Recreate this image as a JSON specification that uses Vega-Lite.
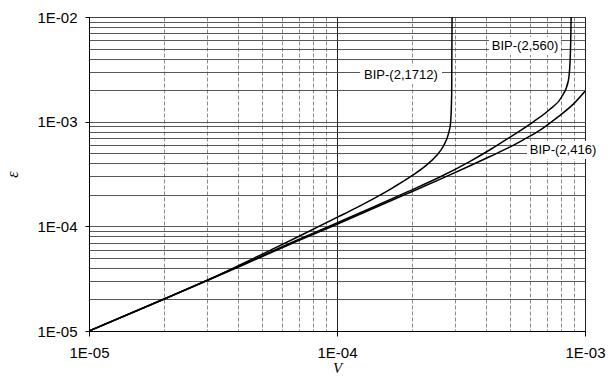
{
  "$schema": "https://vega.github.io/schema/vega-lite/v6.json",
  "width": 496,
  "height": 314,
  "autosize": {"type": "none"},
  "padding": {"left": 89, "top": 17, "right": 29, "bottom": 45},
  "background": "white",
  "config": {"view": {"stroke": "#000", "strokeWidth": 1}, "font": "Liberation Sans"},
  "datasets": {
    "curves": [
      {"series": "BIP-(2,1712)", "v": 1e-5, "e": 1e-5},
      {"series": "BIP-(2,1712)", "v": 2e-5, "e": 2.01e-5},
      {"series": "BIP-(2,1712)", "v": 3e-5, "e": 3.06e-5},
      {"series": "BIP-(2,1712)", "v": 4e-5, "e": 4.21e-5},
      {"series": "BIP-(2,1712)", "v": 5e-5, "e": 5.42e-5},
      {"series": "BIP-(2,1712)", "v": 7e-5, "e": 8.0e-5},
      {"series": "BIP-(2,1712)", "v": 1e-4, "e": 1.216e-4},
      {"series": "BIP-(2,1712)", "v": 1.2e-4, "e": 1.51e-4},
      {"series": "BIP-(2,1712)", "v": 1.4e-4, "e": 1.83e-4},
      {"series": "BIP-(2,1712)", "v": 1.69e-4, "e": 2.36e-4},
      {"series": "BIP-(2,1712)", "v": 2.0e-4, "e": 3.03e-4},
      {"series": "BIP-(2,1712)", "v": 2.3e-4, "e": 3.86e-4},
      {"series": "BIP-(2,1712)", "v": 2.52e-4, "e": 4.75e-4},
      {"series": "BIP-(2,1712)", "v": 2.69e-4, "e": 5.89e-4},
      {"series": "BIP-(2,1712)", "v": 2.81e-4, "e": 7.56e-4},
      {"series": "BIP-(2,1712)", "v": 2.87e-4, "e": 9.72e-4},
      {"series": "BIP-(2,1712)", "v": 2.9e-4, "e": 1.83e-3},
      {"series": "BIP-(2,1712)", "v": 2.91e-4, "e": 1e-2},
      {"series": "BIP-(2,560)", "v": 1e-5, "e": 1e-5},
      {"series": "BIP-(2,560)", "v": 2e-5, "e": 2.01e-5},
      {"series": "BIP-(2,560)", "v": 3e-5, "e": 3.05e-5},
      {"series": "BIP-(2,560)", "v": 4.2e-5, "e": 4.35e-5},
      {"series": "BIP-(2,560)", "v": 7e-5, "e": 7.5e-5},
      {"series": "BIP-(2,560)", "v": 1e-4, "e": 1.079e-4},
      {"series": "BIP-(2,560)", "v": 1.36e-4, "e": 1.48e-4},
      {"series": "BIP-(2,560)", "v": 1.91e-4, "e": 2.12e-4},
      {"series": "BIP-(2,560)", "v": 2.6e-4, "e": 2.96e-4},
      {"series": "BIP-(2,560)", "v": 3.44e-4, "e": 4.18e-4},
      {"series": "BIP-(2,560)", "v": 4.14e-4, "e": 5.39e-4},
      {"series": "BIP-(2,560)", "v": 4.99e-4, "e": 7.13e-4},
      {"series": "BIP-(2,560)", "v": 6.19e-4, "e": 9.97e-4},
      {"series": "BIP-(2,560)", "v": 7.22e-4, "e": 1.314e-3},
      {"series": "BIP-(2,560)", "v": 8.05e-4, "e": 1.72e-3},
      {"series": "BIP-(2,560)", "v": 8.57e-4, "e": 2.47e-3},
      {"series": "BIP-(2,560)", "v": 8.71e-4, "e": 3.89e-3},
      {"series": "BIP-(2,560)", "v": 8.76e-4, "e": 6e-3},
      {"series": "BIP-(2,560)", "v": 8.79e-4, "e": 1e-2},
      {"series": "BIP-(2,416)", "v": 1e-5, "e": 1e-5},
      {"series": "BIP-(2,416)", "v": 2e-5, "e": 2.01e-5},
      {"series": "BIP-(2,416)", "v": 3e-5, "e": 3.04e-5},
      {"series": "BIP-(2,416)", "v": 4.2e-5, "e": 4.3e-5},
      {"series": "BIP-(2,416)", "v": 7e-5, "e": 7.32e-5},
      {"series": "BIP-(2,416)", "v": 1e-4, "e": 1.047e-4},
      {"series": "BIP-(2,416)", "v": 1.36e-4, "e": 1.44e-4},
      {"series": "BIP-(2,416)", "v": 1.91e-4, "e": 2.04e-4},
      {"series": "BIP-(2,416)", "v": 2.6e-4, "e": 2.81e-4},
      {"series": "BIP-(2,416)", "v": 3.44e-4, "e": 3.79e-4},
      {"series": "BIP-(2,416)", "v": 4.14e-4, "e": 4.65e-4},
      {"series": "BIP-(2,416)", "v": 4.83e-4, "e": 5.52e-4},
      {"series": "BIP-(2,416)", "v": 5.64e-4, "e": 6.71e-4},
      {"series": "BIP-(2,416)", "v": 6.59e-4, "e": 8.3e-4},
      {"series": "BIP-(2,416)", "v": 7.69e-4, "e": 1.087e-3},
      {"series": "BIP-(2,416)", "v": 8.97e-4, "e": 1.47e-3},
      {"series": "BIP-(2,416)", "v": 1e-3, "e": 1.95e-3}
    ],
    "labels": [
      {"label": "BIP-(2,1712)", "lx": 1.81e-4, "ly": 2.79e-3, "x1": 1.24e-4, "x2": 2.65e-4, "y1": 2.29e-3, "y2": 3.4e-3},
      {"label": "BIP-(2,560)", "lx": 5.73e-4, "ly": 5.27e-3, "x1": 4.1e-4, "x2": 8.0e-4, "y1": 4.33e-3, "y2": 6.43e-3},
      {"label": "BIP-(2,416)", "lx": 8.15e-4, "ly": 5.36e-4, "x1": 5.83e-4, "x2": 1.15e-3, "y1": 4.4e-4, "y2": 6.53e-4}
    ]
  },
  "layer": [
    {
      "data": {"name": "curves"},
      "mark": {"type": "line", "interpolate": "monotone", "color": "black", "clip": true},
      "encoding": {
        "x": {
          "field": "v", "type": "quantitative",
          "scale": {"type": "log", "domain": [1e-5, 1e-3], "nice": false},
          "axis": {
            "title": "V", "titleFontStyle": "italic", "titleFontWeight": "normal", "titleFontSize": 15, "titleFont": "Liberation Serif", "titlePadding": 0,
            "values": [1e-5, 2e-5, 3e-5, 4e-5, 5e-5, 6e-5, 7e-5, 8e-5, 9e-5, 1e-4, 2e-4, 3e-4, 4e-4, 5e-4, 6e-4, 7e-4, 8e-4, 9e-4, 1e-3],
            "labelExpr": "abs(log(datum.value)/LN10 - round(log(datum.value)/LN10)) < 0.001 ? '1E-0' + abs(round(log(datum.value)/LN10)) : ''",
            "labelFontSize": 15, "labelColor": "#000", "labelPadding": 9, "labelFlush": false, "labelOverlap": false,
            "domainColor": "#000", "tickColor": "#000", "tickSize": 5,
            "tickOpacity": {"condition": {"test": "abs(log(datum.value)/LN10 - round(log(datum.value)/LN10)) < 0.001", "value": 1}, "value": 0},
            "grid": true,
            "gridColor": {"condition": {"test": "abs(log(datum.value)/LN10 - round(log(datum.value)/LN10)) < 0.001", "value": "#222"}, "value": "#8a8a8a"},
            "gridDash": {"condition": {"test": "abs(log(datum.value)/LN10 - round(log(datum.value)/LN10)) < 0.001", "value": []}, "value": [4, 2]},
            "gridOpacity": 1, "gridWidth": 1
          }
        },
        "y": {
          "field": "e", "type": "quantitative",
          "scale": {"type": "log", "domain": [1e-5, 1e-2], "nice": false},
          "axis": {
            "title": "ε", "titleFontStyle": "italic", "titleFontWeight": "normal", "titleFontSize": 16, "titleFont": "Liberation Serif", "titlePadding": 16,
            "values": [1e-5, 2e-5, 3e-5, 4e-5, 5e-5, 6e-5, 7e-5, 8e-5, 9e-5, 1e-4, 2e-4, 3e-4, 4e-4, 5e-4, 6e-4, 7e-4, 8e-4, 9e-4, 1e-3, 2e-3, 3e-3, 4e-3, 5e-3, 6e-3, 7e-3, 8e-3, 9e-3, 1e-2],
            "labelExpr": "abs(log(datum.value)/LN10 - round(log(datum.value)/LN10)) < 0.001 ? '1E-0' + abs(round(log(datum.value)/LN10)) : ''",
            "labelFontSize": 15, "labelColor": "#000", "labelPadding": 8, "labelFlush": false, "labelOverlap": false,
            "domainColor": "#000", "tickColor": "#000", "tickSize": 4,
            "tickOpacity": {"condition": {"test": "abs(log(datum.value)/LN10 - round(log(datum.value)/LN10)) < 0.001", "value": 1}, "value": 0},
            "grid": true, "gridColor": "#444", "gridOpacity": 1, "gridWidth": 0.9
          }
        },
        "detail": {"field": "series"},
        "strokeWidth": {
          "field": "series", "type": "nominal",
          "scale": {"domain": ["BIP-(2,1712)", "BIP-(2,560)", "BIP-(2,416)"], "range": [1.5, 1.5, 2.2]},
          "legend": null
        }
      }
    },
    {
      "data": {"name": "labels"},
      "mark": {"type": "rect", "fill": "white", "stroke": null},
      "encoding": {
        "x": {"field": "x1", "type": "quantitative"},
        "x2": {"field": "x2"},
        "y": {"field": "y1", "type": "quantitative"},
        "y2": {"field": "y2"}
      }
    },
    {
      "data": {"name": "labels"},
      "mark": {"type": "text", "fontSize": 13, "font": "Liberation Sans", "color": "black", "align": "center", "baseline": "middle"},
      "encoding": {
        "x": {"field": "lx", "type": "quantitative"},
        "y": {"field": "ly", "type": "quantitative"},
        "text": {"field": "label"}
      }
    }
  ]
}
